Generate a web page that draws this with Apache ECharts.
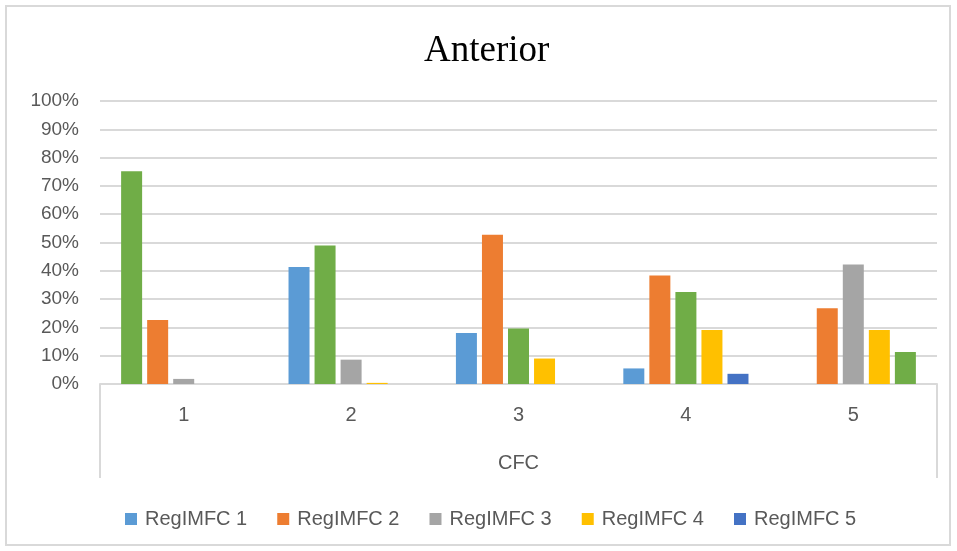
<!DOCTYPE html>
<html>
<head>
<meta charset="utf-8">
<script src="https://cdn.jsdelivr.net/npm/echarts@6/dist/echarts.min.js"></script>
<style>
  html, body { margin: 0; padding: 0; background: #fff; }
  #chart { width: 957px; height: 551px; }
</style>
</head>
<body>
<div id="chart"></div>
<script>
// CFC groups on the x axis
const categories = ['1', '2', '3', '4', '5'];

// Share (%) per RegIMFC class within each CFC group
const seriesNames = ['RegIMFC 1', 'RegIMFC 2', 'RegIMFC 3', 'RegIMFC 4', 'RegIMFC 5'];
const regimfc1 = [75.2, 41.3, 18.0, 5.5, 0];
const regimfc2 = [22.6, 48.9, 52.7, 38.3, 26.8];
const regimfc3 = [1.8, 8.6, 19.6, 32.5, 42.2];
const regimfc4 = [0, 0.4, 9.0, 19.1, 19.1];
const regimfc5 = [0, 0, 0, 3.6, 11.3];

// For each CFC group, the RegIMFC series whose bar is emphasised in green
const emphasisedSeries = [0, 1, 2, 2, 4];

// Value axis ticks
const yTicks = [0, 10, 20, 30, 40, 50, 60, 70, 80, 90, 100];

const seriesValues = [regimfc1, regimfc2, regimfc3, regimfc4, regimfc5];
const colors = ['#5B9BD5', '#ED7D31', '#A5A5A5', '#FFC000', '#4472C4'];
const green = '#70AD47';

const W = 957, H = 551;
const grid = { left: 100, right: 20, top: 101, bottom: 167 };
const plotRight = W - grid.right;
const plotBottom = H - grid.bottom;
const lineColor = '#d9d9d9';
const textColor = '#595959';
const sans = '"Liberation Sans", Arial, sans-serif';

const chart = echarts.init(document.getElementById('chart'), null, { renderer: 'canvas' });

const series = seriesNames.map((name, s) => ({
  name,
  type: 'bar',
  barWidth: 21,
  barGap: '24%',
  itemStyle: { color: colors[s] },
  data: seriesValues[s].map((v, c) =>
    emphasisedSeries[c] === s ? { value: v, itemStyle: { color: green } } : v)
}));

chart.setOption({
  animation: false,
  backgroundColor: '#fff',
  title: {
    text: 'Anterior',
    left: 424,
    top: 33,
    padding: 0,
    textStyle: {
      fontFamily: '"Liberation Serif", "Times New Roman", serif',
      fontSize: 37,
      fontWeight: 'normal',
      color: '#000'
    }
  },
  legend: {
    data: seriesNames,
    left: 120,
    top: 504,
    itemWidth: 12,
    itemHeight: 12,
    itemGap: 30,
    icon: 'rect',
    textStyle: { fontFamily: sans, fontSize: 20, color: textColor, padding: [0, 0, 0, 3] }
  },
  grid: { left: grid.left, right: grid.right, top: grid.top, bottom: grid.bottom, containLabel: false },
  xAxis: {
    type: 'category',
    data: categories,
    name: 'CFC',
    nameLocation: 'middle',
    nameGap: 69,
    nameTextStyle: { fontFamily: sans, fontSize: 20, color: textColor },
    axisLine: { show: true, lineStyle: { color: lineColor, width: 2 } },
    axisTick: { show: false },
    axisLabel: { fontFamily: sans, fontSize: 20, color: textColor, margin: 21 }
  },
  yAxis: {
    type: 'value',
    min: yTicks[0],
    max: yTicks[yTicks.length - 1],
    interval: yTicks[1] - yTicks[0],
    axisLine: { show: false },
    axisTick: { show: false },
    axisLabel: { fontFamily: sans, fontSize: 19, color: textColor, margin: 21, formatter: '{value}%' },
    splitLine: { lineStyle: { color: lineColor, width: 2 } }
  },
  graphic: [
    // outer chart frame
    { type: 'rect', shape: { x: 6, y: 6, width: W - 13, height: H - 12 },
      style: { fill: 'none', stroke: lineColor, lineWidth: 2 }, silent: true },
    // category-axis box sides
    { type: 'line', shape: { x1: grid.left, y1: plotBottom, x2: grid.left, y2: plotBottom + 94 },
      style: { stroke: lineColor, lineWidth: 2 }, silent: true },
    { type: 'line', shape: { x1: plotRight, y1: plotBottom, x2: plotRight, y2: plotBottom + 94 },
      style: { stroke: lineColor, lineWidth: 2 }, silent: true }
  ],
  series
});
</script>
</body>
</html>
